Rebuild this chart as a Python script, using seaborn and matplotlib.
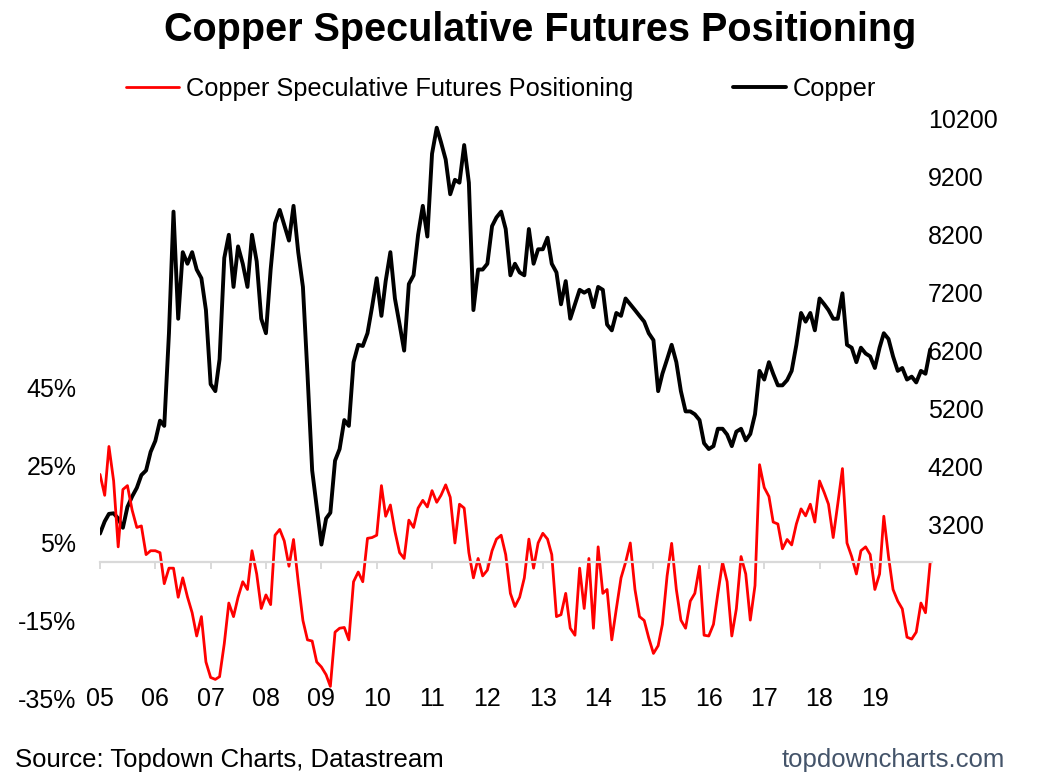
import matplotlib
matplotlib.use("Agg")
import matplotlib.pyplot as plt
import matplotlib.dates as mdates
import seaborn as sns
import pandas as pd

# monthly readings, Jan 2005 .. Jan 2020
positioning = [
    22.7, 17.3, 29.9, 21, 4, 18.8, 19.8, 13.5, 9, 9.4, 2, 3,
    3, 2.5, -5.5, -1.5, -1.5, -9, -4, -8.9, -13, -19, -14, -25.7,
    -29.7, -30.2, -29.5, -21, -10.5, -14, -9, -5, -7, 3, -3, -11.9,
    -8.4, -10.9, 7, 8.5, 5.5, -1, 5.9, -5, -15, -20, -20.3, -25.7,
    -27, -29, -32, -18, -17, -16.8, -20, -5, -2.5, -5, 6.2, 6.4,
    7, 19.8, 11.9, 14.8, 8, 2.5, 1, 10.9, 9, 14, 16, 14.3,
    18.5, 15.5, 17.3, 20, 16.8, 5, 15, 14, 2.5, -4, 1, -3.5,
    -2, 3, 6, 7, 2, -8, -11.4, -9, -4, 6, -1.5, 5,
    7.5, 6, 2, -14, -13.5, -8, -17, -18.8, -1.5, -11.9, 1, -17,
    4, -8, -7, -20, -12, -4, 0, 5, -7, -14, -15, -19.5,
    -23.5, -21.5, -16, -3.5, 4.9, -7, -14.9, -17, -10, -8, -1, -18.8,
    -19, -16, -8, 0, -5, -19, -12, 1.5, -3, -14.9, -6, 25.2,
    19.3, 17, 10.4, 9.9, 3.5, 5.9, 4.5, 9.9, 13.8, 12, 15, 10.4,
    21, 18, 15, 6.4, 15, 24.2, 5, 1.5, -3, 3, 4, 2,
    -7, -3, 11.9, 1.5, -7, -10, -12, -19.3, -19.8, -18, -10.5, -13,
    0,
]

copper = [
    3040, 3250, 3380, 3390, 3300, 3140, 3500, 3680, 3830, 4050, 4130, 4450,
    4640, 4990, 4900, 6500, 8600, 6750, 7900, 7700, 7900, 7600, 7450, 6900,
    5620, 5500, 6050, 7800, 8200, 7300, 8000, 7700, 7300, 8200, 7740, 6750,
    6500, 7600, 8400, 8630, 8370, 8100, 8700, 7900, 7300, 5800, 4130, 3500,
    2850, 3300, 3400, 4300, 4500, 5000, 4900, 6000, 6300, 6280, 6500, 6950,
    7450, 6800, 7400, 7900, 7100, 6650, 6200, 7350, 7500, 8200, 8700, 8170,
    9600, 10050, 9800, 9500, 8900, 9150, 9100, 9750, 9100, 6900, 7600, 7600,
    7700, 8350, 8500, 8600, 8300, 7500, 7700, 7550, 7500, 8300, 7700, 7950,
    7950, 8150, 7700, 7550, 7000, 7400, 6750, 7000, 7250, 7200, 7250, 6950,
    7300, 7250, 6650, 6550, 6850, 6800, 7100, 7000, 6900, 6800, 6700, 6500,
    6380, 5500, 5800, 6050, 6300, 6000, 5500, 5150, 5150, 5100, 5000, 4600,
    4500, 4550, 4850, 4850, 4750, 4550, 4800, 4850, 4650, 4760, 5100, 5850,
    5700, 6000, 5800, 5600, 5600, 5690, 5850, 6300, 6850, 6700, 6850, 6550,
    7100, 7000, 6900, 6750, 6750, 7190, 6300, 6250, 6000, 6250, 6150, 6100,
    5900, 6250, 6500, 6400, 6100, 5850, 5900, 5700, 5750, 5650, 5850, 5800,
    6220,
]

dates = pd.date_range("2005-01-01", periods=len(copper), freq="MS")
year_ticks = pd.date_range("2005-01-01", "2019-01-01", freq="YS")
left_ticks = [-35, -15, 5, 25, 45]
right_ticks = [3200, 4200, 5200, 6200, 7200, 8200, 9200, 10200]

df = pd.DataFrame({"date": dates, "positioning": positioning, "copper": copper})

sns.set_style("white")
plt.rcParams["font.family"] = ["Liberation Sans", "DejaVu Sans"]
plt.rcParams["text.color"] = "black"
plt.rcParams["xtick.color"] = "black"
plt.rcParams["ytick.color"] = "black"

fig = plt.figure(figsize=(10.37, 7.83), dpi=100)
ax1 = fig.add_axes([100 / 1037, 85 / 783, 832 / 1037, 579 / 783])
ax2 = ax1.twinx()

sns.lineplot(data=df, x="date", y="copper", ax=ax2, color="black", lw=2.8, legend=False)
sns.lineplot(data=df, x="date", y="positioning", ax=ax1, color="#ff0000", lw=2.0, legend=False)

# red series sits above the black one
ax1.set_zorder(ax2.get_zorder() + 1)
ax1.patch.set_visible(False)

ax1.set_xlim(pd.Timestamp("2005-01-01"), pd.Timestamp("2020-01-13"))
ax1.set_ylim(-35, 114.4)
ax2.set_ylim(200, 10200)

for ax in (ax1, ax2):
    for s in ax.spines.values():
        s.set_visible(False)
    ax.set_xlabel("")
    ax.set_ylabel("")

# horizontal axis crossing at 0% with small year ticks
ax1.spines["bottom"].set_visible(True)
ax1.spines["bottom"].set_position(("data", 0))
ax1.spines["bottom"].set_color("#d9d9d9")
ax1.spines["bottom"].set_linewidth(1.6)
ax1.set_xticks(year_ticks)
ax1.xaxis.set_major_formatter(mdates.DateFormatter("%y"))
ax1.tick_params(axis="x", direction="out", length=5, width=1.4, color="#d9d9d9",
                labelbottom=False, bottom=True)

# year labels along the bottom edge
ax2.xaxis.set_visible(True)
ax2.tick_params(axis="x", length=0, labelsize=18, pad=-8, labelbottom=True, bottom=False)

ax1.set_yticks(left_ticks)
ax1.set_yticklabels([f"{t}%" for t in left_ticks])
ax1.tick_params(axis="y", length=0, labelsize=18, pad=17)

ax2.set_yticks(right_ticks)
ax2.set_yticklabels([str(t) for t in right_ticks])
ax2.tick_params(axis="y", length=0, labelsize=18, pad=-3)

fig.text(540 / 1037, 1 - 30 / 783, "Copper Speculative Futures Positioning",
         ha="center", va="center", fontsize=28.5, fontweight="bold")

fig.legend([ax1.lines[0], ax2.lines[0]],
           ["Copper Speculative Futures Positioning", "Copper"],
           loc="center", bbox_to_anchor=(501 / 1037, 1 - 89 / 783), ncol=2,
           frameon=False, fontsize=18.3, handlelength=2.1, handletextpad=0.28,
           columnspacing=3.9)

fig.text(15 / 1037, 1 - 760 / 783, "Source: Topdown Charts, Datastream",
         ha="left", va="center", fontsize=18.5)
fig.text(1005 / 1037, 1 - 760 / 783, "topdowncharts.com",
         ha="right", va="center", fontsize=18.5, color="#44546a")

fig.savefig("out.png", dpi=100)
